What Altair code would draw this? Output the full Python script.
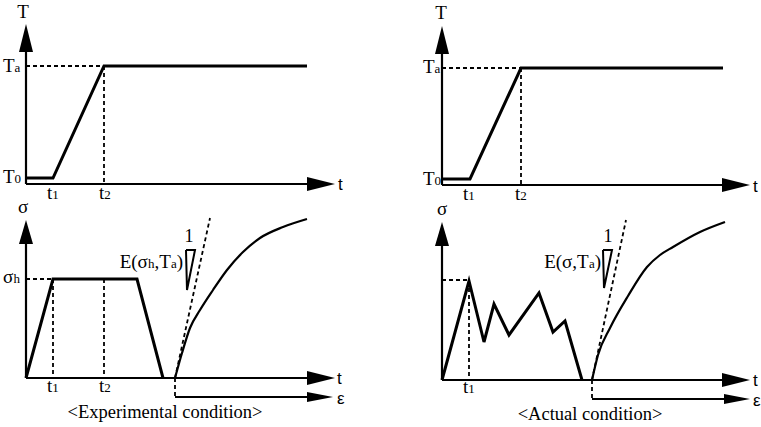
import altair as alt
import pandas as pd

# Drawing frame: x to the right, y downward, both in canvas units
W, H = 761, 427

# ---- temperature histories (T vs t) ----
temp_exp_x = [26, 53, 104, 307]
temp_exp_y = [178, 178, 66, 66]
temp_act_x = [442, 470, 521, 723]
temp_act_y = [179, 179, 68, 68]

# ---- stress histories (sigma vs t) ----
stress_exp_x = [26, 53, 137, 163]
stress_exp_y = [378, 279, 279, 378]
stress_act_x = [442, 469, 484, 494, 509, 539, 553, 565, 582]
stress_act_y = [380, 281, 342, 304, 335, 293, 332, 321, 380]

# ---- stress-strain curves after reloading ----
ss_exp_x = [175, 182, 190, 200, 213, 227, 243, 260, 283, 307]
ss_exp_y = [378, 353, 328, 310, 290, 270, 252, 238, 227, 219]
ss_act_x = [592, 598, 610, 628, 647, 660, 673, 700, 725]
ss_act_y = [380, 355, 328, 296, 267, 255, 247, 232, 222]

# ---- axis shafts: x1, y1, x2, y2 ----
axis_x1 = [26, 26, 442, 442, 26, 26, 442, 442, 175, 592]
axis_y1 = [184, 184, 185, 185, 378, 378, 380, 380, 397, 399]
axis_x2 = [26, 311, 442, 726, 26, 311, 442, 726, 311, 726]
axis_y2 = [48, 184, 50, 185, 240, 378, 242, 380, 397, 399]

# ---- arrow heads: tip position, direction, length, half width ----
head_x = [26, 442, 26, 442, 335, 750, 335, 750, 333, 750]
head_y = [24, 26, 220, 222, 184, 185, 378, 380, 397, 399]
head_dir = ["up", "up", "up", "up", "right", "right", "right", "right", "right", "right"]
head_len = [28, 28, 24, 24, 28, 28, 28, 28, 26, 26]
head_half = [7, 7, 7, 7, 7, 7, 7, 7, 5, 5]

# ---- dashed guide lines: x1, y1, x2, y2 ----
dash_x1 = [26, 104, 442, 521, 26, 53, 104, 442, 469, 175, 592, 175, 592]
dash_y1 = [66, 66, 68, 68, 279, 279, 279, 280, 281, 378, 380, 378, 380]
dash_x2 = [104, 104, 521, 521, 53, 53, 104, 469, 469, 210, 626, 175, 592]
dash_y2 = [66, 184, 68, 185, 279, 378, 378, 280, 380, 218, 220, 397, 399]

# ---- slope triangles ----
tri_exp_x = [186, 195, 187, 186]
tri_exp_y = [250, 250, 290, 250]
tri_act_x = [603, 612, 604, 603]
tri_act_y = [250, 250, 288, 250]

SERIF = "Liberation Serif"
SANS = "Liberation Sans"
MAIN, SUB = 19, 13

# advance widths (em) used to lay out labels with small subscripts
EM = {"T": .611, "a": .444, "0": .5, "1": .5, "2": .5, "t": .278, "h": .5,
      "E": .611, "(": .333, ")": .333, ",": .25, "σ": .55}


def run_width(text, size):
    return sum(EM.get(c, .5) for c in text) * size


def layout(runs, x, y, anchor="left"):
    total = sum(run_width(t, s) for t, s in runs)
    if anchor == "right":
        x -= total
    rows = []
    for t, s in runs:
        rows.append({"x": x, "y": y, "text": t, "size": s})
        x += run_width(t, s)
    return rows


serif_rows = []
serif_rows += layout([("T", MAIN), ("a", SUB)], 3, 72)
serif_rows += layout([("T", MAIN), ("0", SUB)], 3, 183)
serif_rows += layout([("T", MAIN), ("a", SUB)], 423, 73)
serif_rows += layout([("T", MAIN), ("0", SUB)], 423, 185)
for tx, ty, lab in [(47, 199, "1"), (99, 199, "2"), (463, 200, "1"), (515, 200, "2"),
                    (47, 392, "1"), (99, 392, "2"), (463, 393, "1")]:
    serif_rows += layout([("t", MAIN), (lab, SUB)], tx, ty)
serif_rows += layout([("σ", MAIN), ("h", SUB)], 3, 283)
serif_rows += layout([("E(σ", MAIN), ("h", SUB), (",T", MAIN), ("a", SUB), (")", MAIN)],
                     183, 268, anchor="right")
serif_rows += layout([("E(σ,T", MAIN), ("a", SUB), (")", MAIN)], 601, 268, anchor="right")
serif_df = pd.DataFrame(serif_rows)

center_df = pd.DataFrame({
    "x": [23, 441, 23, 442, 189, 608, 165, 590],
    "y": [18, 19, 213, 215, 242, 242, 418, 420],
    "text": ["T", "T", "σ", "σ", "1", "1", "<Experimental condition>", "<Actual condition>"],
    "size": [MAIN, MAIN, MAIN, MAIN, 18, 18, 18.5, 18.5],
})

sans_df = pd.DataFrame({
    "x": [338, 753, 337, 337, 753, 753],
    "y": [190, 192, 384, 404, 386, 406],
    "text": ["t", "t", "t", "ε", "t", "ε"],
    "size": [17, 17, 17, 17, 17, 17],
})


def series(name, xs, ys):
    return pd.DataFrame({"id": name, "x": xs, "y": ys, "o": range(len(xs))})


profiles = pd.concat([
    series("temp_exp", temp_exp_x, temp_exp_y),
    series("temp_act", temp_act_x, temp_act_y),
    series("stress_exp", stress_exp_x, stress_exp_y),
    series("stress_act", stress_act_x, stress_act_y),
])
curves = pd.concat([
    series("ss_exp", ss_exp_x, ss_exp_y),
    series("ss_act", ss_act_x, ss_act_y),
])
triangles = pd.concat([
    series("tri_exp", tri_exp_x, tri_exp_y),
    series("tri_act", tri_act_x, tri_act_y),
])
axes_df = pd.DataFrame({"x": axis_x1, "y": axis_y1, "x2": axis_x2, "y2": axis_y2})
dash_df = pd.DataFrame({"x": dash_x1, "y": dash_y1, "x2": dash_x2, "y2": dash_y2})


def head_path(d, half, length):
    r = half / length
    if d == "up":
        return f"M0,0 L{r:.3f},1 L{-r:.3f},1 Z"
    return f"M0,0 L-1,{-r:.3f} L-1,{r:.3f} Z"


heads_df = pd.DataFrame({
    "x": head_x, "y": head_y,
    "shape": [head_path(d, h, L) for d, h, L in zip(head_dir, head_half, head_len)],
    "size": [(2 * L) ** 2 for L in head_len],
})

xs = alt.Scale(domain=[0, W], nice=False, zero=False)
ys = alt.Scale(domain=[0, H], nice=False, zero=False, reverse=True)
X = alt.X("x:Q", scale=xs, axis=None)
Y = alt.Y("y:Q", scale=ys, axis=None)

axes_layer = alt.Chart(axes_df).mark_rule(color="black", strokeWidth=2.2).encode(
    x=X, y=Y, x2="x2:Q", y2="y2:Q")
dash_layer = alt.Chart(dash_df).mark_rule(
    color="black", strokeWidth=1.8, strokeDash=[4, 3]).encode(x=X, y=Y, x2="x2:Q", y2="y2:Q")
profile_layer = alt.Chart(profiles).mark_line(
    color="black", strokeWidth=3, strokeJoin="miter").encode(
    x=X, y=Y, detail="id:N", order="o:Q")
curve_layer = alt.Chart(curves).mark_line(
    color="black", strokeWidth=2.2, interpolate="monotone").encode(
    x=X, y=Y, detail="id:N", order="o:Q")
tri_layer = alt.Chart(triangles).mark_line(
    color="black", strokeWidth=2, strokeJoin="miter").encode(
    x=X, y=Y, detail="id:N", order="o:Q")
head_layer = alt.Chart(heads_df).mark_point(
    filled=True, color="black", opacity=1, strokeWidth=0).encode(
    x=X, y=Y,
    shape=alt.Shape("shape:N", scale=None, legend=None),
    size=alt.Size("size:Q", scale=None, legend=None))

serif_layer = alt.Chart(serif_df).mark_text(
    font=SERIF, align="left", baseline="alphabetic", color="black").encode(
    x=X, y=Y, text="text:N", size=alt.Size("size:Q", scale=None, legend=None))
center_layer = alt.Chart(center_df).mark_text(
    font=SERIF, align="center", baseline="alphabetic", color="black").encode(
    x=X, y=Y, text="text:N", size=alt.Size("size:Q", scale=None, legend=None))
sans_layer = alt.Chart(sans_df).mark_text(
    font=SANS, align="left", baseline="alphabetic", color="black").encode(
    x=X, y=Y, text="text:N", size=alt.Size("size:Q", scale=None, legend=None))

chart = alt.layer(
    axes_layer, dash_layer, profile_layer, curve_layer, tri_layer, head_layer,
    serif_layer, center_layer, sans_layer,
).properties(
    width=W, height=H, padding=0, autosize=alt.AutoSizeParams(type="none"),
    background="white",
).configure_view(stroke=None)

chart.save("out.html", embed_options={"renderer": "svg", "actions": False})
